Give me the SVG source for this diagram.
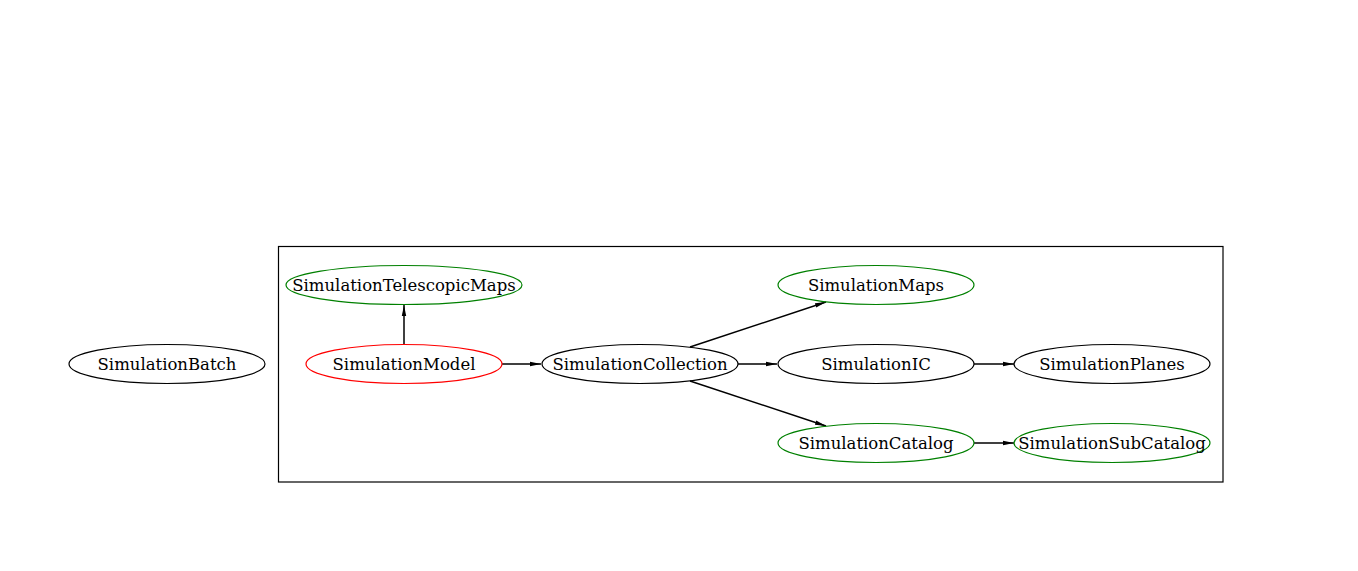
<svg xmlns="http://www.w3.org/2000/svg" width="1358" height="571" viewBox="0 0 1358 571">
<style>
text{font-family:"DejaVu Serif",serif;font-size:16.5px;fill:#000;text-anchor:middle;dominant-baseline:central}
ellipse{fill:none;stroke-width:1.2}
.k{stroke:#000}.g{stroke:#008000}.r{stroke:#ff0000}
.e{stroke:#000;stroke-width:1.5;fill:none;marker-end:url(#a)}
</style>
<defs>
<marker id="a" markerWidth="11" markerHeight="6" refX="11" refY="3" orient="auto" markerUnits="userSpaceOnUse">
<path d="M0,0.8 L11,3 L0,5.2 z" fill="#000"/>
</marker>
</defs>
<rect width="1358" height="571" fill="#fff"/>
<rect x="278.5" y="246.5" width="944.5" height="235.5" fill="none" stroke="#000" stroke-width="1.2"/>
<g id="connectors">
<path class="e" d="M404,344 L404,305"/>
<path class="e" d="M502,364 L541,364"/>
<path class="e" d="M690,347 L826,302"/>
<path class="e" d="M738,364 L777,364"/>
<path class="e" d="M690,381 L826,426"/>
<path class="e" d="M974,364 L1014,364"/>
<path class="e" d="M974,443 L1014,443"/>
</g>
<g id="SimulationBatch"><ellipse class="k" cx="167" cy="364" rx="98" ry="19.5"/><text x="167" y="364">SimulationBatch</text></g>
<g id="SimulationTelescopicMaps"><ellipse class="g" cx="404" cy="285" rx="118" ry="19.5"/><text x="404" y="285">SimulationTelescopicMaps</text></g>
<g id="SimulationModel"><ellipse class="r" cx="404" cy="364" rx="98" ry="19.5"/><text x="404" y="364">SimulationModel</text></g>
<g id="SimulationCollection"><ellipse class="k" cx="640" cy="364" rx="98" ry="19.5"/><text x="640" y="364">SimulationCollection</text></g>
<g id="SimulationMaps"><ellipse class="g" cx="876" cy="285" rx="98" ry="19.5"/><text x="876" y="285">SimulationMaps</text></g>
<g id="SimulationIC"><ellipse class="k" cx="876" cy="364" rx="98" ry="19.5"/><text x="876" y="364">SimulationIC</text></g>
<g id="SimulationCatalog"><ellipse class="g" cx="876" cy="443" rx="98" ry="19.5"/><text x="876" y="443">SimulationCatalog</text></g>
<g id="SimulationPlanes"><ellipse class="k" cx="1112" cy="364" rx="98" ry="19.5"/><text x="1112" y="364">SimulationPlanes</text></g>
<g id="SimulationSubCatalog"><ellipse class="g" cx="1112" cy="443" rx="98" ry="19.5"/><text x="1112" y="443">SimulationSubCatalog</text></g>
</svg>
